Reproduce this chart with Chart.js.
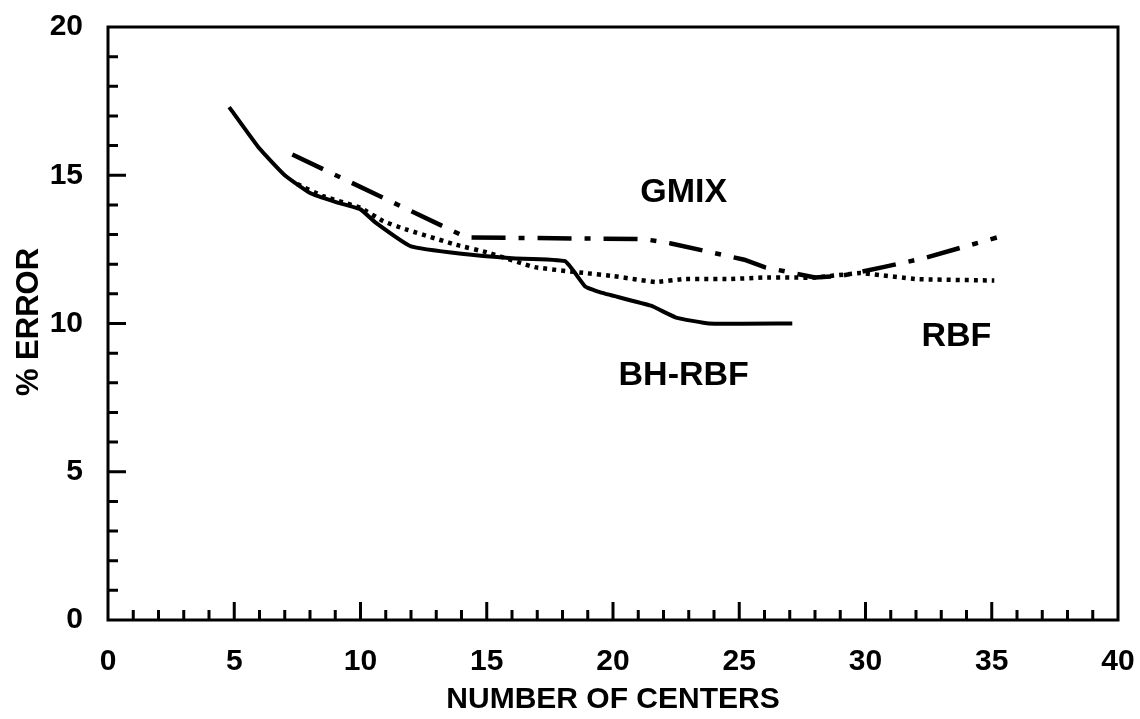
<!DOCTYPE html>
<html lang="en">
<head>
  <meta charset="UTF-8">
  <title>% Error vs Number of Centers</title>
  <script src="https://cdn.jsdelivr.net/npm/chart.js"></script>
  <style>
    body { margin: 0; background: #fff; }
  </style>
</head>
<body>
  <canvas id="myChart" width="1140" height="719"></canvas>

  <script>
    // values
    const bhX = [4.8, 6, 7, 8, 9, 10, 10.6, 12, 14, 16, 18.1, 18.9, 19.5, 21.5, 22.5, 23.8, 27.1];
    const bhY = [17.3, 15.9, 15.0, 14.4, 14.1, 13.85, 13.4, 12.6, 12.35, 12.2, 12.1, 11.25, 11.05, 10.6, 10.2, 10.0, 10.0];

    const gmixX = [7.3, 14.2, 21.2, 22.3, 25.2, 26, 28, 29, 30.7, 32.3, 35.2];
    const gmixY = [15.7, 12.9, 12.85, 12.7, 12.15, 11.9, 11.55, 11.6, 11.9, 12.2, 12.9];

    const rbfX = [7.5, 8.5, 10, 10.9, 11.7, 13.8, 15, 16.9, 18.9, 20, 21.7, 22.8, 24.6, 26, 28, 29.8, 32, 35.1];
    const rbfY = [14.7, 14.3, 13.9, 13.45, 13.2, 12.65, 12.4, 11.9, 11.7, 11.6, 11.4, 11.5, 11.5, 11.55, 11.55, 11.7, 11.5, 11.45];

    // curve labels: [text, x, y]
    const curveLabels = [
      ['GMIX', 22.8, 14.4],
      ['BH-RBF', 22.8, 8.25],
      ['RBF', 33.6, 9.55]
    ];

    const xTitle = 'NUMBER OF CENTERS';
    const yTitle = '% ERROR';
    const font = "'Liberation Sans', Arial, sans-serif";

    function pts(xs, ys) {
      return xs.map((x, i) => ({ x: x, y: ys[i] }));
    }

    // frame, inward ticks, curve labels, y title
    const decor = {
      id: 'decor',
      afterDatasetsDraw(chart) {
        const ctx = chart.ctx;
        const a = chart.chartArea;
        const xs = chart.scales.x, ys = chart.scales.y;
        ctx.save();
        ctx.strokeStyle = '#000';
        ctx.lineWidth = 3;
        ctx.strokeRect(a.left, a.top, a.right - a.left, a.bottom - a.top);

        ctx.beginPath();
        for (let v = 1; v < 40; v++) {
          const px = xs.getPixelForValue(v);
          const len = v % 5 === 0 ? 18 : 10;
          ctx.moveTo(px, a.bottom);
          ctx.lineTo(px, a.bottom - len);
        }
        for (let v = 1; v < 20; v++) {
          const py = ys.getPixelForValue(v);
          const len = v % 5 === 0 ? 18 : 10;
          ctx.moveTo(a.left, py);
          ctx.lineTo(a.left + len, py);
        }
        ctx.stroke();

        ctx.fillStyle = '#000';
        ctx.textAlign = 'center';
        ctx.textBaseline = 'middle';
        ctx.font = 'bold 34px ' + font;
        curveLabels.forEach(l => {
          ctx.fillText(l[0], xs.getPixelForValue(l[1]), ys.getPixelForValue(l[2]));
        });

        ctx.font = 'bold 31px ' + font;
        ctx.translate(29, ys.getPixelForValue(10.05));
        ctx.rotate(-Math.PI / 2);
        ctx.fillText(yTitle, 0, 0);
        ctx.restore();
      }
    };

    var ctx = document.getElementById('myChart').getContext('2d');
    var myChart = new Chart(ctx, {
      type: 'line',
      data: {
        datasets: [
          {
            label: 'BH-RBF',
            data: pts(bhX, bhY),
            borderColor: '#000',
            borderWidth: 4,
            pointRadius: 0,
            tension: 0.12,
            fill: false
          },
          {
            label: 'GMIX',
            data: pts(gmixX, gmixY),
            borderColor: '#000',
            borderWidth: 4.5,
            borderDash: [34, 13, 6, 13],
            pointRadius: 0,
            tension: 0,
            fill: false
          },
          {
            label: 'RBF',
            data: pts(rbfX, rbfY),
            borderColor: '#000',
            borderWidth: 4.5,
            borderDash: [4, 5],
            pointRadius: 0,
            tension: 0.1,
            fill: false
          }
        ]
      },
      options: {
        responsive: false,
        animation: false,
        layout: { padding: { top: 27, right: 22, left: 0, bottom: 0 } },
        plugins: {
          legend: { display: false },
          tooltip: { enabled: false }
        },
        scales: {
          x: {
            type: 'linear',
            min: 0,
            max: 40,
            afterFit: s => { s.height = 99; s.paddingLeft = 0; s.paddingRight = 0; },
            border: { display: false },
            grid: { display: false, drawTicks: false },
            ticks: {
              stepSize: 5,
              padding: 24,
              color: '#000',
              font: { family: font, size: 30, weight: 'bold' }
            },
            title: {
              display: true,
              text: xTitle,
              color: '#000',
              padding: { top: 0, bottom: 1 },
              font: { family: font, size: 30, weight: 'bold' }
            }
          },
          y: {
            min: 0,
            max: 20,
            afterFit: s => { s.width = 108; s.paddingTop = 0; s.paddingBottom = 0; },
            border: { display: false },
            grid: { display: false, drawTicks: false },
            ticks: {
              stepSize: 5,
              padding: 25,
              color: '#000',
              font: { family: font, size: 30, weight: 'bold' }
            }
          }
        }
      },
      plugins: [decor]
    });
  </script>
</body>
</html>
